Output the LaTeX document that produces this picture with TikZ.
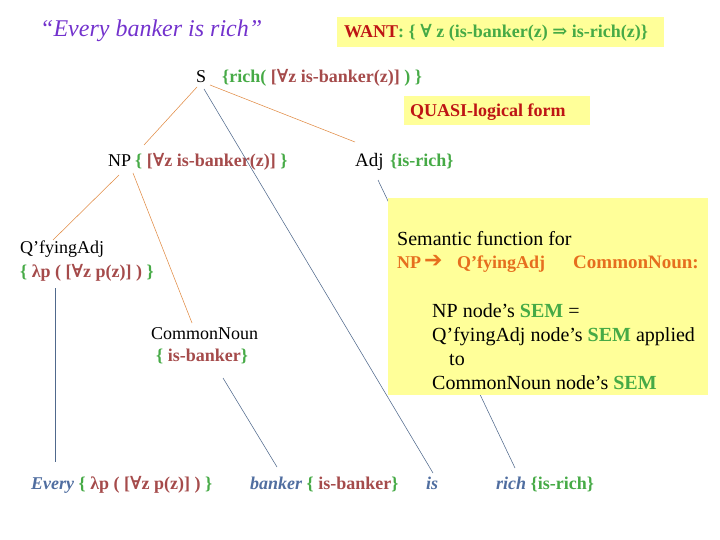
\documentclass[tikz,border=0pt]{standalone}
\usepackage{fontspec}
\setmainfont{Liberation Serif}
\newfontfamily\symfont{DejaVu Serif}
\newfontfamily\arrfont{DejaVu Sans}
\newcommand\fa{{\symfont ∀}}
\newcommand\myfs[1]{\fontsize{#1}{#1}\selectfont}
\definecolor{grn}{RGB}{70,170,70}
\definecolor{brn}{RGB}{165,75,75}
\definecolor{dred}{RGB}{190,20,20}
\definecolor{org}{RGB}{230,110,30}
\definecolor{wblue}{RGB}{80,110,160}
\definecolor{purp}{RGB}{115,50,205}
\definecolor{yel}{RGB}{255,255,153}
\definecolor{lineor}{RGB}{225,140,70}
\definecolor{lineblue}{RGB}{80,105,140}
\tikzset{
  txt/.style={inner sep=0pt, anchor=base west},
  cat/.style={txt, font=\myfs{18}},
  sem/.style={txt, font=\myfs{18}\bfseries},
  boxtxt/.style={txt, font=\myfs{20}},
  ol/.style={draw=lineor, line width=0.55pt},
  bl/.style={draw=lineblue, line width=0.55pt},
  ybox/.style={fill=yel, draw=none, inner sep=0pt, anchor=north west}
}
\begin{document}
\begin{tikzpicture}[x=1pt,y=-1pt]
\useasboundingbox (0,0) rectangle (720,540);
% title
\node[txt, font=\myfs{24}\itshape, text=purp] (title) at (40,37) {“Every banker is rich”};
% WANT box
\node[ybox, minimum width=327pt, minimum height=30pt] (wantbox) at (337,17) {};
\node[sem] (want) at (344,38) {\textcolor{dred}{WANT}\textcolor{grn}{: \{ \fa\ z (is-banker(z) {\symfont ⇒} is-rich(z)\}}};
% S
\node[cat] (S) at (196,83) {S};
\node[sem] (Ssem) at (222,83) {\textcolor{grn}{\{rich(} \textcolor{brn}{[\fa z is-banker(z)]} \textcolor{grn}{) \}}};
% QUASI box
\node[ybox, minimum width=186pt, minimum height=29pt] (quasibox) at (404,96) {};
\node[sem, text=dred] (quasi) at (410,117) {QUASI-logical form};
% NP, Adj
\node[cat] (NP) at (108,167) {NP};
\node[sem] (NPsem) at (135,167) {\textcolor{grn}{\{} \textcolor{brn}{[\fa z is-banker(z)]} \textcolor{grn}{\}}};
\node[txt, font=\myfs{19}] (Adj) at (355,167) {Adj};
\node[sem, text=grn] (Adjsem) at (390,167) {\{is-rich\}};
% Q'fyingAdj
\node[cat] (Q) at (20,254) {Q’fyingAdj};
\node[sem] (Qsem) at (20,277) {\textcolor{grn}{\{} \textcolor{brn}{λp ( [\fa z p(z)] )} \textcolor{grn}{\}}};
% CommonNoun
\node[cat] (CN) at (151,339) {CommonNoun};
\node[sem] (CNsem) at (156,361) {\textcolor{grn}{\{} \textcolor{brn}{is-banker}\textcolor{grn}{\}}};
% words
\node[sem] (every) at (31,489) {\textcolor{wblue}{\itshape Every} \textcolor{grn}{\{} \textcolor{brn}{λp ( [\fa z p(z)] )} \textcolor{grn}{\}}};
\node[sem] (banker) at (250,489) {\textcolor{wblue}{\itshape banker} \textcolor{grn}{\{} \textcolor{brn}{is-banker}\textcolor{grn}{\}}};
\node[sem] (is) at (426,489) {\textcolor{wblue}{\itshape is}};
\node[sem] (rich) at (496,489) {\textcolor{wblue}{\itshape rich} \textcolor{grn}{\{is-rich\}}};
% connector ends
\coordinate (sa) at (197,87);
\coordinate (sb) at (204,89);
\coordinate (sc) at (210,85);
\coordinate (npt) at (144,145);
\coordinate (isTop) at (433,473);
\coordinate (adjT) at (355,142);
\coordinate (npa) at (119,175);
\coordinate (npb) at (133,173);
\coordinate (qt) at (53,240);
\coordinate (cnt) at (192,323);
\coordinate (qb) at (55,288);
\coordinate (evt) at (55,462);
\coordinate (cnb) at (223,378);
\coordinate (bkt) at (277,467);
\coordinate (adjb) at (378,180);
\coordinate (rct) at (515,468);
% lines
\draw[ol] (sa) -- (npt);
\draw[bl] (sb) -- (isTop);
\draw[ol] (sc) -- (adjT);
\draw[ol] (npa) -- (qt);
\draw[ol] (npb) -- (cnt);
\draw[bl] (qb) -- (evt);
\draw[bl] (cnb) -- (bkt);
\draw[bl] (adjb) -- (rct);
% semantic box
\node[ybox, minimum width=320pt, minimum height=197pt] (sembox) at (388,198) {};
\node[boxtxt] (s1) at (397,245) {Semantic function for};
\node[txt, font=\myfs{18}\bfseries, text=org] (s2a) at (397,268) {NP};
\node[txt, font=\myfs{22}\arrfont, text=org] (s2b) at (424,267) {➔};
\node[txt, font=\myfs{18}\bfseries, text=org] (s2c) at (457,268) {Q’fyingAdj};
\node[txt, font=\myfs{19}\bfseries, text=org] (s2d) at (573,268) {CommonNoun:};
\node[boxtxt] (s3) at (432,317) {NP node’s \textcolor{grn}{\textbf{SEM}} =};
\node[boxtxt] (s4) at (432,341) {Q’fyingAdj node’s \textcolor{grn}{\textbf{SEM}} applied};
\node[boxtxt] (s5) at (449,365) {to};
\node[boxtxt] (s6) at (432,389) {CommonNoun node’s \textcolor{grn}{\textbf{SEM}}};
\end{tikzpicture}
\end{document}
